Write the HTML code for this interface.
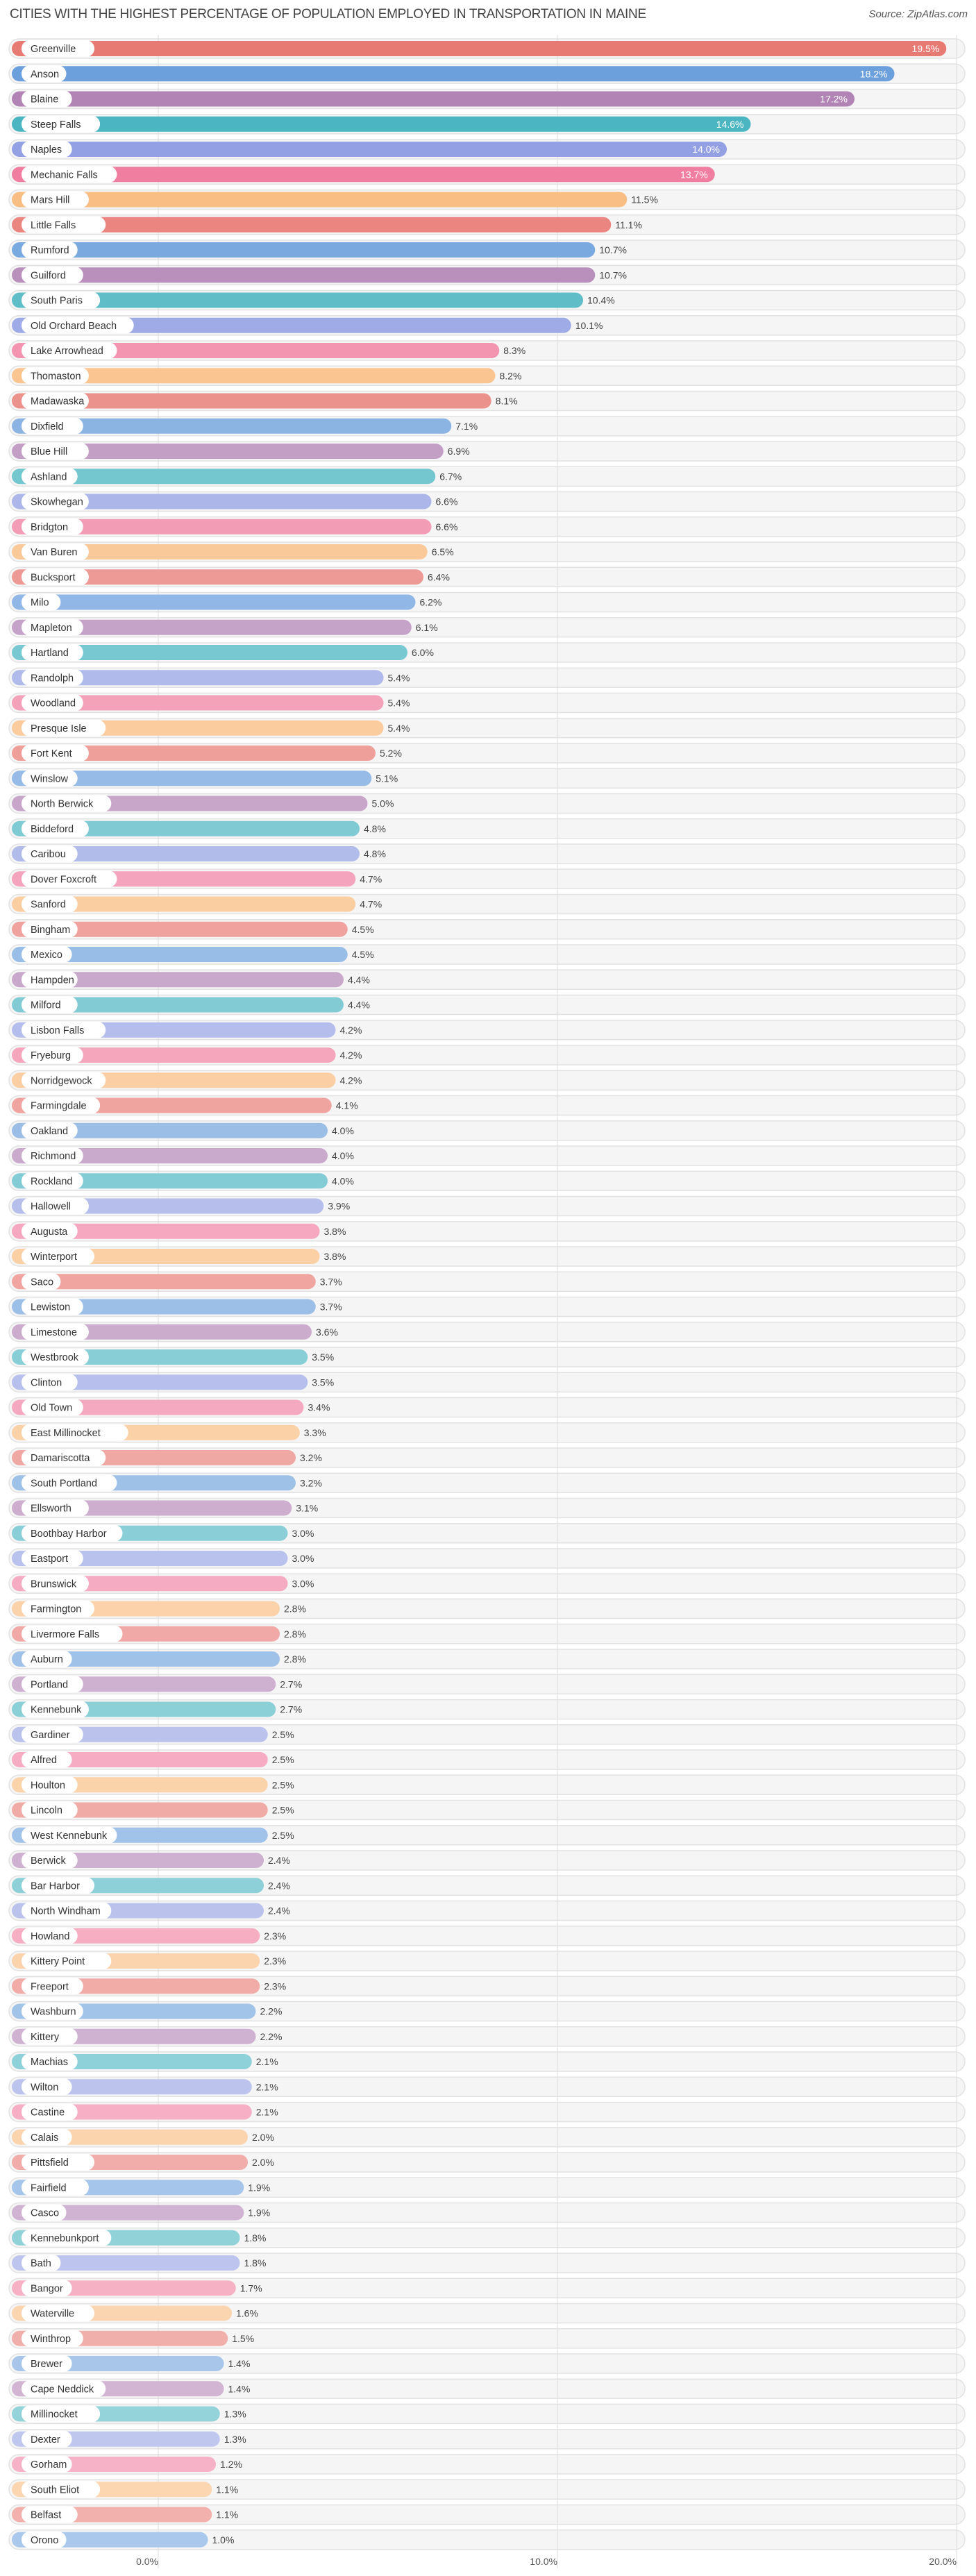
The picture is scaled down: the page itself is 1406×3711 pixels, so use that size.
<!DOCTYPE html>
<html><head><meta charset="utf-8"><style>
body{margin:0;background:#fff;font-family:"Liberation Sans",sans-serif;}
#wrap{position:relative;width:1406px;height:3711px;overflow:hidden}
.title{position:absolute;left:14px;top:10px;font-size:19px;color:#444;letter-spacing:-0.3px}
.src{position:absolute;right:12px;top:12px;font-size:15px;color:#555;font-style:italic}
</style></head><body>
<div id="wrap">
<div class="title">CITIES WITH THE HIGHEST PERCENTAGE OF POPULATION EMPLOYED IN TRANSPORTATION IN MAINE</div>
<div class="src">Source: ZipAtlas.com</div>
<svg id="svg" width="1406" height="3711" style="position:absolute;left:0;top:0"></svg>
</div>
<script>
const cities=["Greenville","Anson","Blaine","Steep Falls","Naples","Mechanic Falls","Mars Hill","Little Falls","Rumford","Guilford","South Paris","Old Orchard Beach","Lake Arrowhead","Thomaston","Madawaska","Dixfield","Blue Hill","Ashland","Skowhegan","Bridgton","Van Buren","Bucksport","Milo","Mapleton","Hartland","Randolph","Woodland","Presque Isle","Fort Kent","Winslow","North Berwick","Biddeford","Caribou","Dover Foxcroft","Sanford","Bingham","Mexico","Hampden","Milford","Lisbon Falls","Fryeburg","Norridgewock","Farmingdale","Oakland","Richmond","Rockland","Hallowell","Augusta","Winterport","Saco","Lewiston","Limestone","Westbrook","Clinton","Old Town","East Millinocket","Damariscotta","South Portland","Ellsworth","Boothbay Harbor","Eastport","Brunswick","Farmington","Livermore Falls","Auburn","Portland","Kennebunk","Gardiner","Alfred","Houlton","Lincoln","West Kennebunk","Berwick","Bar Harbor","North Windham","Howland","Kittery Point","Freeport","Washburn","Kittery","Machias","Wilton","Castine","Calais","Pittsfield","Fairfield","Casco","Kennebunkport","Bath","Bangor","Waterville","Winthrop","Brewer","Cape Neddick","Millinocket","Dexter","Gorham","South Eliot","Belfast","Orono"];
const values=[19.5,18.2,17.2,14.6,14.0,13.7,11.5,11.1,10.7,10.7,10.4,10.1,8.3,8.2,8.1,7.1,6.9,6.7,6.6,6.6,6.5,6.4,6.2,6.1,6.0,5.4,5.4,5.4,5.2,5.1,5.0,4.8,4.8,4.7,4.7,4.5,4.5,4.4,4.4,4.2,4.2,4.2,4.1,4.0,4.0,4.0,3.9,3.8,3.8,3.7,3.7,3.6,3.5,3.5,3.4,3.3,3.2,3.2,3.1,3.0,3.0,3.0,2.8,2.8,2.8,2.7,2.7,2.5,2.5,2.5,2.5,2.5,2.4,2.4,2.4,2.3,2.3,2.3,2.2,2.2,2.1,2.1,2.1,2.0,2.0,1.9,1.9,1.8,1.8,1.7,1.6,1.5,1.4,1.4,1.3,1.3,1.2,1.1,1.1,1.0];
const ticks=[0,10,20];
const palette=[[232,122,116],[108,160,220],[178,131,181],[75,181,193],[147,160,227],[240,126,160],[249,185,122]];
const svg=document.getElementById('svg');const NS='http://www.w3.org/2000/svg';
const x0=228, pxPer=57.5, rowY0=70, rowStep=36.25;
function xs(v){return x0+v*pxPer;}
function ys(i){return rowY0+i*rowStep;}
function mk(t,a){const e=document.createElementNS(NS,t);for(const k in a)e.setAttribute(k,a[k]);svg.appendChild(e);return e;}
cities.forEach((c,i)=>{
 const cy=ys(i);
 const bg=mk('rect',{x:13,y:cy-14,width:1377,height:28,rx:14,fill:'#f5f5f5',stroke:'#e2e2e2','stroke-width':1.5});
 
 
});
ticks.forEach(t=>{
 const g=mk('line',{x1:xs(t),x2:xs(t),y1:50,y2:3700,stroke:'#dcdcdc','stroke-width':1});
 
 
 const l=mk('text',{x:xs(t),y:3695,'font-size':14,fill:'#555','text-anchor':'end','font-family':'Liberation Sans'});
 l.textContent=t.toFixed(1)+'%';
 
 
});
cities.forEach((c,i)=>{
 const v=values[i], cy=ys(i), col=palette[i%7];
 const f=Math.min(1,0.55+v/30);
 const rgb=col.map(ch=>Math.round(255-(255-ch)*f));
 const end=xs(v)+14;
 const b=mk('rect',{x:17,y:cy-11,width:end-17,height:22,rx:11,fill:'rgb('+rgb.join(',')+')'});
 
 
 const tw=c.length*8.1+24;
 const p=mk('rect',{x:31,y:cy-12,width:tw,height:24,rx:12,fill:'#fff'});
 
 
 const t=mk('text',{x:44,y:cy+5,'font-size':14.5,fill:'#333','font-family':'Liberation Sans'});
 t.textContent=c;
 
 
 const inside=v>=13;
 const vt=mk('text',{x:inside?end-10:end+6,y:cy+5,'font-size':14,fill:inside?'#fff':'#444','text-anchor':inside?'end':'start','font-family':'Liberation Sans'});
 vt.textContent=v.toFixed(1)+'%';
 
 
});
</script>
</body></html>
